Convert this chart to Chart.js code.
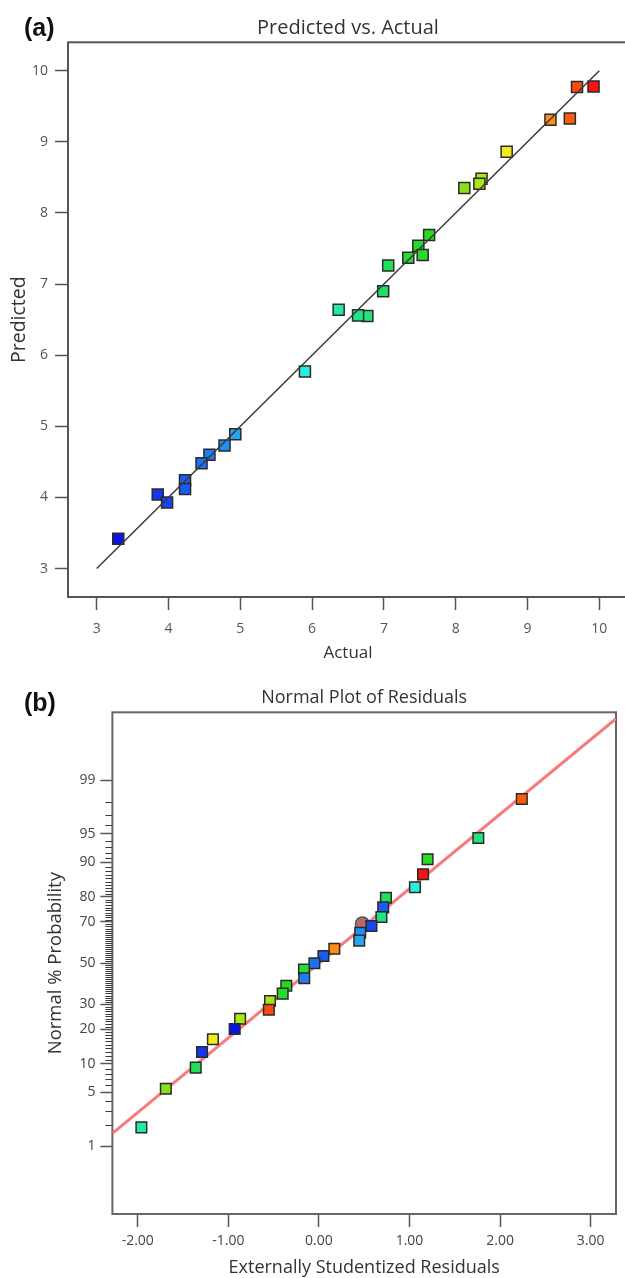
<!DOCTYPE html>
<html>
<head>
<meta charset="utf-8">
<script src="https://cdn.jsdelivr.net/npm/chart.js@4.4.0/dist/chart.umd.min.js"></script>
<style>
  html, body { margin:0; padding:0; background:#fff; width:625px; height:1278px; overflow:hidden; }
  .wrap { position:absolute; }
  .panel { position:absolute; font-family:"Liberation Sans", Arial, sans-serif; font-weight:bold;
           font-size:25px; line-height:1; color:#111; }
</style>
</head>
<body>
<div class="wrap" style="left:0;top:0;width:640px;height:665px"><canvas id="ca"></canvas></div>
<div class="wrap" style="left:0;top:660px;width:625px;height:620px"><canvas id="cb"></canvas></div>
<div class="panel" style="left:24px;top:15px">(a)</div>
<div class="panel" style="left:24px;top:690px">(b)</div>
<script>
// ---------------- data: (a) Predicted vs. Actual ----------------
const actualA    = [9.92, 9.69, 9.59, 9.32, 8.71, 8.36, 8.33, 8.12, 7.63, 7.48, 7.54, 7.34, 7.06, 6.99,
                    6.77, 6.64, 6.37, 5.90, 4.93, 4.78, 4.57, 4.46, 4.23, 4.23, 3.85, 3.98, 3.30];
const predictedA = [9.78, 9.77, 9.33, 9.31, 8.86, 8.48, 8.41, 8.35, 7.69, 7.54, 7.41, 7.37, 7.26, 6.90,
                    6.55, 6.56, 6.64, 5.77, 4.89, 4.73, 4.60, 4.48, 4.24, 4.12, 4.04, 3.93, 3.42];
const fitLineX = [3, 10];
const fitLineY = [3, 10];
const xTicksA = [3, 4, 5, 6, 7, 8, 9, 10];
const yTicksA = [3, 4, 5, 6, 7, 8, 9, 10];

// ---------------- data: (b) Normal Plot of Residuals ----------------
const residualsB = [2.24, 1.76, 1.20, 1.15, 1.06, 0.74, 0.71, 0.69, 0.58, 0.456, 0.445, 0.17, 0.05, -0.05,
                    -0.165, -0.162, -0.36, -0.40, -0.54, -0.553, -0.87, -0.93, -1.17, -1.29, -1.36, -1.69, -1.96];
const probB      = [98.16, 94.43, 90.68, 87.07, 83.27, 79.73, 76.11, 72.14, 68.19, 65.06, 61.26, 57.30, 53.63, 49.92,
                    46.77, 42.39, 38.71, 34.90, 31.53, 27.70, 24.00, 20.13, 16.65, 12.93, 9.19, 5.52, 1.84];
const runValueB  = [9.59, 6.77, 7.54, 9.92, 5.90, 6.99, 4.23, 6.64, 3.98, 4.78, 4.93, 9.32, 4.23, 4.46,
                    7.34, 4.57, 7.63, 7.48, 8.33, 9.69, 8.36, 3.30, 8.71, 3.85, 7.06, 8.12, 6.37];
const highlightX = [0.48];
const highlightP = [69.1];
const residLineX = [-2.28, 3.28];
const residLineP = [1.52, 99.906];
const xTicksB = [-2, -1, 0, 1, 2, 3];
const yProbTicksB = [1, 5, 10, 20, 30, 50, 70, 80, 90, 95, 99];

// ---------------- helpers ----------------
function probit(p) { // inverse standard normal CDF (Acklam)
  const a=[-3.969683028665376e+01,2.209460984245205e+02,-2.759285104469687e+02,1.383577518672690e+02,-3.066479806614716e+01,2.506628277459239e+00];
  const b=[-5.447609879822406e+01,1.615858368580409e+02,-1.556989798598866e+02,6.680131188771972e+01,-1.328068155288572e+01];
  const c=[-7.784894002430293e-03,-3.223964580411365e-01,-2.400758277161838e+00,-2.549732539343734e+00,4.374664141464968e+00,2.938163982698783e+00];
  const d=[7.784695709041462e-03,3.224671290700398e-01,2.445134137142996e+00,3.754408661907416e+00];
  const pl=0.02425, ph=1-pl; let q, r;
  if (p < pl) { q=Math.sqrt(-2*Math.log(p)); return (((((c[0]*q+c[1])*q+c[2])*q+c[3])*q+c[4])*q+c[5])/((((d[0]*q+d[1])*q+d[2])*q+d[3])*q+1); }
  if (p <= ph) { q=p-0.5; r=q*q; return (((((a[0]*r+a[1])*r+a[2])*r+a[3])*r+a[4])*r+a[5])*q/(((((b[0]*r+b[1])*r+b[2])*r+b[3])*r+b[4])*r+1); }
  q=Math.sqrt(-2*Math.log(1-p)); return -(((((c[0]*q+c[1])*q+c[2])*q+c[3])*q+c[4])*q+c[5])/((((d[0]*q+d[1])*q+d[2])*q+d[3])*q+1);
}
const pct = p => probit(p / 100);

// colour ramp (value -> colour), Design-Expert style
const rampStops = [[3.30,'#0a14e6'],[3.85,'#1438f0'],[4.00,'#1448f2'],[4.23,'#1a5cf2'],[4.46,'#1e72f2'],
  [4.60,'#1e80f2'],[4.80,'#1e94f2'],[4.95,'#28a8f0'],[5.90,'#28f0e0'],[6.37,'#22e8a8'],[6.70,'#20e480'],
  [7.00,'#20e060'],[7.30,'#22dc36'],[7.65,'#2ed822'],[8.12,'#8ce018'],[8.36,'#a8e818'],[8.71,'#f0ee18'],
  [9.32,'#ff8c14'],[9.59,'#ff5a10'],[9.69,'#ff4a10'],[9.92,'#ff1010']];
function hex2rgb(h){ return [parseInt(h.slice(1,3),16), parseInt(h.slice(3,5),16), parseInt(h.slice(5,7),16)]; }
function rampColor(v) {
  if (v <= rampStops[0][0]) return rampStops[0][1];
  for (let i = 1; i < rampStops.length; i++) {
    if (v <= rampStops[i][0]) {
      const [v0,c0] = rampStops[i-1], [v1,c1] = rampStops[i];
      const t = (v - v0) / (v1 - v0), a = hex2rgb(c0), b = hex2rgb(c1);
      return 'rgb(' + a.map((x,k)=>Math.round(x + (b[k]-x)*t)).join(',') + ')';
    }
  }
  return rampStops[rampStops.length-1][1];
}

const FONT = "'Open Sans', 'Noto Sans', sans-serif";
Chart.defaults.font.family = FONT;
Chart.defaults.animation = false;

const minorProbTicks = [];
for (let p = 2; p <= 98; p++) if (!yProbTicksB.includes(p)) minorProbTicks.push(p);

function makeFrame(color, width) {
  return {
    id: 'frame',
    beforeDatasetsDraw(chart) {
      const {ctx, chartArea: a} = chart;
      ctx.save();
      ctx.strokeStyle = color; ctx.lineWidth = width;
      ctx.strokeRect(a.left, a.top, a.right - a.left, a.bottom - a.top);
      ctx.restore();
    }
  };
}
const minorTickPlugin = {
  id: 'minorTicks',
  afterDraw(chart) {
    const s = chart.scales.y, ctx = chart.ctx;
    const xr = chart.chartArea.left;
    ctx.save();
    ctx.strokeStyle = '#3c3c3c'; ctx.lineWidth = 1.2;
    ctx.beginPath();
    minorProbTicks.forEach(p => {
      const y = Math.round(s.getPixelForValue(pct(p))) + 0.5;
      ctx.moveTo(xr - 7, y); ctx.lineTo(xr, y);
    });
    ctx.stroke();
    ctx.restore();
  }
};

// ---------------- chart (a) ----------------
new Chart(document.getElementById('ca'), {
  type: 'scatter',
  data: { datasets: [
    { type: 'line', data: fitLineX.map((x, i) => ({x, y: fitLineY[i]})), borderColor: '#3a3a3a',
      borderWidth: 1.5, pointRadius: 0, fill: false, tension: 0 },
    { data: actualA.map((x, i) => ({x, y: predictedA[i]})), pointStyle: 'rect', pointRadius: 7.8,
      backgroundColor: actualA.map(rampColor), borderColor: '#2a2a2a', borderWidth: 1.5 }
  ]},
  options: {
    responsive: true, maintainAspectRatio: false,
    layout: { padding: { left: 0, right: 12, top: 0, bottom: 0 } },
    plugins: {
      legend: { display: false }, tooltip: { enabled: false },
      title: { display: true, text: 'Predicted vs. Actual', fullSize: false, color: '#333',
               font: { size: 20, weight: 'normal' }, padding: { top: 16, bottom: 2.3 } }
    },
    scales: {
      x: { type: 'linear', min: 2.6, max: 10.4,
           afterBuildTicks(s) { s.ticks = xTicksA.map(v => ({value: v})); },
           afterFit(s) { s.height = 68; },
           ticks: { color: '#555', font: { size: 14 }, padding: 11, autoSkip: false, maxRotation: 0 },
           grid: { drawOnChartArea: false, drawTicks: true, tickLength: 13, tickColor: '#555', tickWidth: 1.5 },
           border: { display: false },
           title: { display: true, text: 'Actual', color: '#333', font: { size: 17 }, padding: { top: 0, bottom: 1.8 } } },
      y: { type: 'linear', min: 2.6, max: 10.4,
           afterBuildTicks(s) { s.ticks = yTicksA.map(v => ({value: v})); },
           afterFit(s) { s.width = 68; },
           ticks: { color: '#555', font: { size: 14 }, padding: 7, autoSkip: false },
           grid: { drawOnChartArea: false, drawTicks: true, tickLength: 13, tickColor: '#555', tickWidth: 1.5 },
           border: { display: false },
           title: { display: true, text: 'Predicted', color: '#333', font: { size: 19.5 }, padding: { top: 7.3, bottom: 0 } } }
    }
  },
  plugins: [makeFrame('#555', 2)]
});

// ---------------- chart (b) ----------------
new Chart(document.getElementById('cb'), {
  type: 'scatter',
  data: { datasets: [
    { data: residualsB.map((x, i) => ({x, y: pct(probB[i])})), pointStyle: 'rect', pointRadius: 7.5,
      backgroundColor: runValueB.map(rampColor), borderColor: '#2a2a2a', borderWidth: 1.5 },
    { data: highlightX.map((x, i) => ({x, y: pct(highlightP[i])})), pointStyle: 'circle', pointRadius: 7,
      backgroundColor: '#b46a6a', borderColor: '#555', borderWidth: 1.5 },
    { type: 'line', data: residLineX.map((x, i) => ({x, y: pct(residLineP[i])})), borderColor: '#f47c7c',
      borderWidth: 3, pointRadius: 0, fill: false, tension: 0 }
  ]},
  options: {
    responsive: true, maintainAspectRatio: false,
    layout: { padding: { left: 0, right: 7.5, top: 0, bottom: 0 } },
    plugins: {
      legend: { display: false }, tooltip: { enabled: false },
      title: { display: true, text: 'Normal Plot of Residuals', fullSize: false, color: '#333',
               font: { size: 18, weight: 'normal' }, padding: { top: 26.9, bottom: 3.8 } }
    },
    scales: {
      x: { type: 'linear', min: -2.28, max: 3.28,
           afterBuildTicks(s) { s.ticks = xTicksB.map(v => ({value: v})); },
           afterFit(s) { s.height = 66; },
           ticks: { color: '#444', font: { size: 14 }, padding: 6, autoSkip: false, maxRotation: 0,
                    callback: v => Number(v).toFixed(2) },
           grid: { drawOnChartArea: false, drawTicks: true, tickLength: 13, tickColor: '#555', tickWidth: 1.5 },
           border: { display: false },
           title: { display: true, text: 'Externally Studentized Residuals', color: '#333', font: { size: 18 },
                    padding: { top: 0, bottom: 1.2 } } },
      y: { type: 'linear', min: -3.19, max: 3.19,
           afterBuildTicks(s) { s.ticks = yProbTicksB.map(p => ({value: pct(p)})); },
           afterFit(s) { s.width = 112.4; },
           ticks: { color: '#444', font: { size: 14 }, padding: 5, autoSkip: false,
                    callback: (v, i) => String(yProbTicksB[i]) },
           grid: { drawOnChartArea: false, drawTicks: true, tickLength: 12, tickColor: '#555', tickWidth: 1.5 },
           border: { display: false },
           title: { display: true, text: 'Normal % Probability', color: '#333', font: { size: 18.5 },
                    padding: { top: 44.9, bottom: 0 } } }
    }
  },
  plugins: [makeFrame('#666', 2), minorTickPlugin]
});
</script>
</body>
</html>
